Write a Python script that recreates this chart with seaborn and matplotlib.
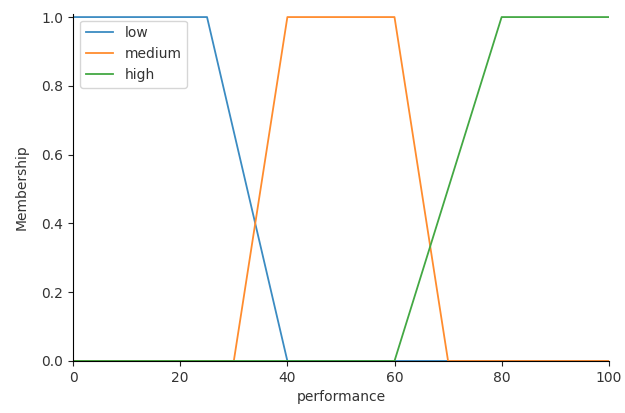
import matplotlib
matplotlib.use("Agg")
import matplotlib.pyplot as plt
import seaborn as sns
import pandas as pd

# breakpoints of each membership function (trapezoids)
low_x = [0, 25, 40, 100]
low_y = [1, 1, 0, 0]
medium_x = [0, 30, 40, 60, 70, 100]
medium_y = [0, 0, 1, 1, 0, 0]
high_x = [0, 60, 80, 100]
high_y = [0, 0, 1, 1]

df = pd.concat([
    pd.DataFrame({"performance": low_x, "Membership": low_y, "set": "low"}),
    pd.DataFrame({"performance": medium_x, "Membership": medium_y, "set": "medium"}),
    pd.DataFrame({"performance": high_x, "Membership": high_y, "set": "high"}),
])

fig = plt.figure(figsize=(6.25, 4.13), dpi=100)
ax = fig.add_axes([0.117, 0.126, 0.857, 0.841])

sns.lineplot(data=df, x="performance", y="Membership", hue="set",
             palette=["#3b8bc2", "#ff8c2e", "#43a843"],
             estimator=None, sort=False, linewidth=1.3, ax=ax)

ax.set_xlim(0, 100)
ax.set_ylim(0, 1.01)
ax.set_xticks([0, 20, 40, 60, 80, 100])
ax.set_yticks([0, 0.2, 0.4, 0.6, 0.8, 1.0])
ax.set_ylabel("Membership", labelpad=9)
ax.tick_params(colors="#222222", labelcolor="#333333")
ax.xaxis.label.set_color("#333333")
ax.yaxis.label.set_color("#333333")
ax.legend(title=None, loc="upper left", labelcolor="#333333")
sns.despine(ax=ax)

fig.savefig("out.png", dpi=100)
